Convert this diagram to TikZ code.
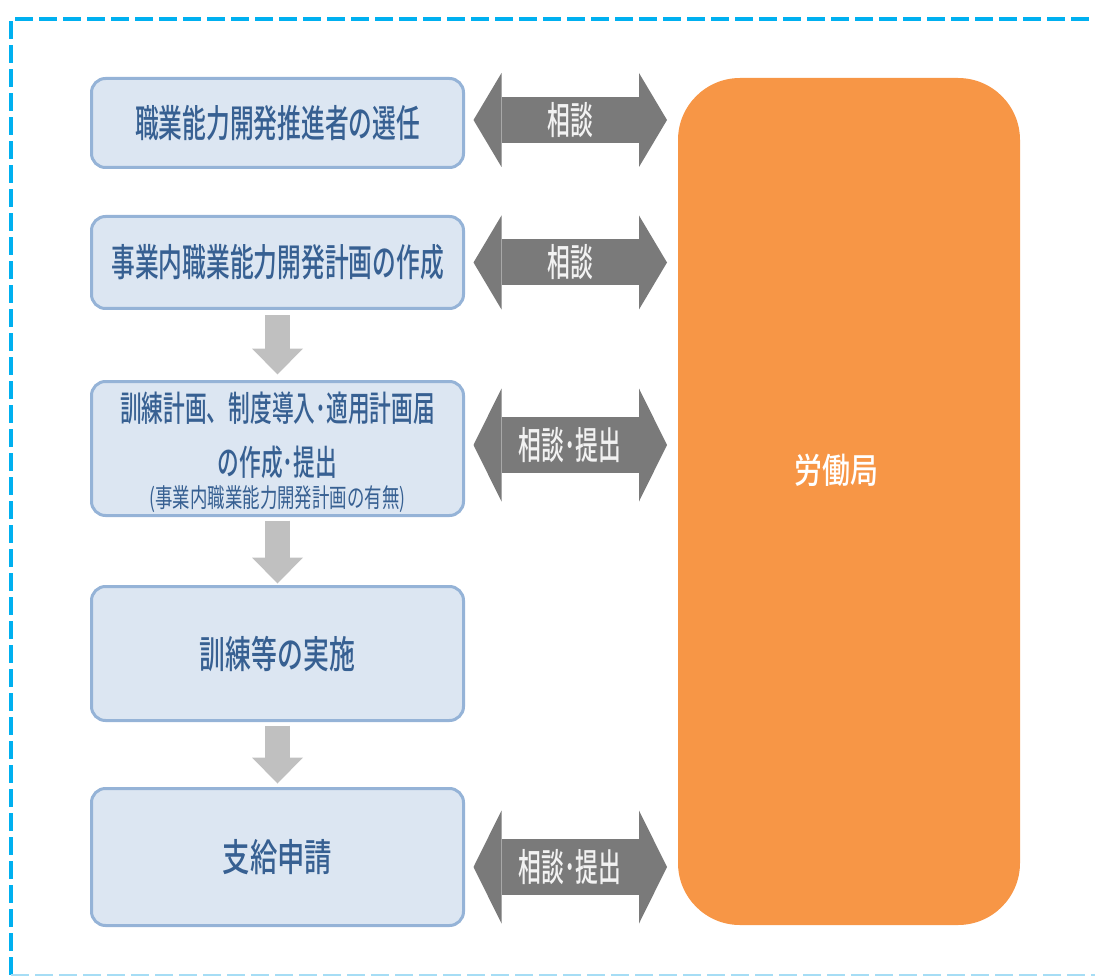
\documentclass[tikz,border=0pt]{standalone}
\usepackage{fontspec}
\usepackage{graphicx}
\newfontfamily\jp{Noto Sans CJK JP Medium}
\newfontfamily\jpr{Noto Sans CJK JP}
\usetikzlibrary{arrows.meta,calc}
\definecolor{framec}{HTML}{00B0F0}
\definecolor{framelt}{HTML}{A6DDF5}
\definecolor{boxfill}{HTML}{DCE6F2}
\definecolor{boxline}{HTML}{95B3D7}
\definecolor{boxtext}{HTML}{376092}
\definecolor{arrgray}{HTML}{7A7A7A}
\definecolor{downgray}{HTML}{C0C0C0}
\definecolor{orangec}{HTML}{F79646}
\newcommand\cz[2][0.625]{\scalebox{#1}[1]{#2}}
\begin{document}
\begin{tikzpicture}[x=1pt,y=-1pt,
  box/.style={draw=boxline, fill=boxfill, line width=3pt, rounded corners=14pt,
    minimum width=372pt, outer sep=0pt, inner sep=0pt},
  btxt/.style={text=boxtext, font=\jp\fontsize{38}{40}\selectfont, inner sep=0pt},
  mtxt/.style={text=boxtext, font=\jp\fontsize{35}{37}\selectfont, inner sep=0pt},
  stxt/.style={text=boxtext, font=\jpr\fontsize{26}{28}\selectfont, inner sep=0pt},
  atxt/.style={text=white!95!black, font=\jp\fontsize{38}{40}\selectfont, inner sep=0pt},
  dblA/.style={draw=arrgray, line width=46pt,
    arrows={Triangle[width=94pt,length=28pt,line width=0pt]-Triangle[width=94pt,length=28pt,line width=0pt]}},
  dblB/.style={draw=arrgray, line width=56pt,
    arrows={Triangle[width=113pt,length=28pt,line width=0pt]-Triangle[width=113pt,length=28pt,line width=0pt]}},
  downA/.style={draw=downgray, line width=25pt,
    arrows={-Triangle[width=51pt,length=26pt,line width=0pt]}},
  org/.style={fill=orangec, rounded corners=62pt, minimum width=342pt, minimum height=847pt, outer sep=0pt}
]
\useasboundingbox (0,0) rectangle (1095,976);
% frame
\draw[framec, line width=4.5pt, dash pattern=on 18pt off 6pt] (11,975) -- (11,19) -- (1110,19);
\draw[framelt, line width=4pt, dash pattern=on 18pt off 6pt] (11,976) -- (1110,976);

% boxes
\node[box, minimum height=89pt] (b1) at (277.5,123) {};
\node[btxt] (t1) at (b1.center) {\cz{職業能力開発推進者の選任}};
\node[box, minimum height=92pt] (b2) at (277.5,262.5) {};
\node[btxt] (t2) at (b2.center) {\cz{事業内職業能力開発計画の作成}};
\node[box, minimum height=134pt] (b3) at (277.5,448.5) {};
\node[mtxt] (t3a) at ($(b3.center)+(0,-40)$) {\cz[0.62]{訓練計画、制度導入･適用計画届}};
\node[mtxt] (t3b) at ($(b3.center)+(0,14)$) {\cz[0.62]{の作成･提出}};
\node[stxt] (t3c) at ($(b3.center)+(0,51)$) {\cz[0.67]{(事業内職業能力開発計画の有無)}};
\node[box, minimum height=134pt] (b4) at (277.5,653.5) {};
\node[btxt] (t4) at (b4.center) {\cz[0.68]{訓練等の実施}};
\node[box, minimum height=137pt] (b5) at (277.5,857) {};
\node[btxt] (t5) at (b5.center) {\cz[0.72]{支給申請}};

% orange
\node[org] (lab) at (849,501.5) {};
\node[atxt, text=white, font=\jp\fontsize{35}{37}\selectfont] (labt) at (836,470) {\cz[0.8]{労働局}};

% down arrows
\draw[downA] ([yshift=-7pt]b2.south) -- ([yshift=7pt]b3.north);
\draw[downA] ([yshift=-5pt]b3.south) -- ([yshift=3pt]b4.north);
\draw[downA] ([yshift=-5pt]b4.south) -- ([yshift=5pt]b5.north);

% double arrows
\draw[dblA] ([xshift=10pt,yshift=3pt]b1.east) -- ([xshift=-11pt,yshift=3pt]b1.east -| lab.west)
  node[midway, atxt] {\cz[0.6]{相談}};
\draw[dblA] ([xshift=10pt]b2.east) -- ([xshift=-11pt]b2.east -| lab.west)
  node[midway, atxt] {\cz[0.6]{相談}};
\draw[dblB] ([xshift=10pt,yshift=3.5pt]b3.east) -- ([xshift=-11pt,yshift=3.5pt]b3.east -| lab.west)
  node[midway, atxt] {\cz[0.6]{相談･提出}};
\draw[dblB] ([xshift=10pt,yshift=-10pt]b5.east) -- ([xshift=-11pt,yshift=-10pt]b5.east -| lab.west)
  node[midway, atxt] {\cz[0.6]{相談･提出}};
\end{tikzpicture}
\end{document}
